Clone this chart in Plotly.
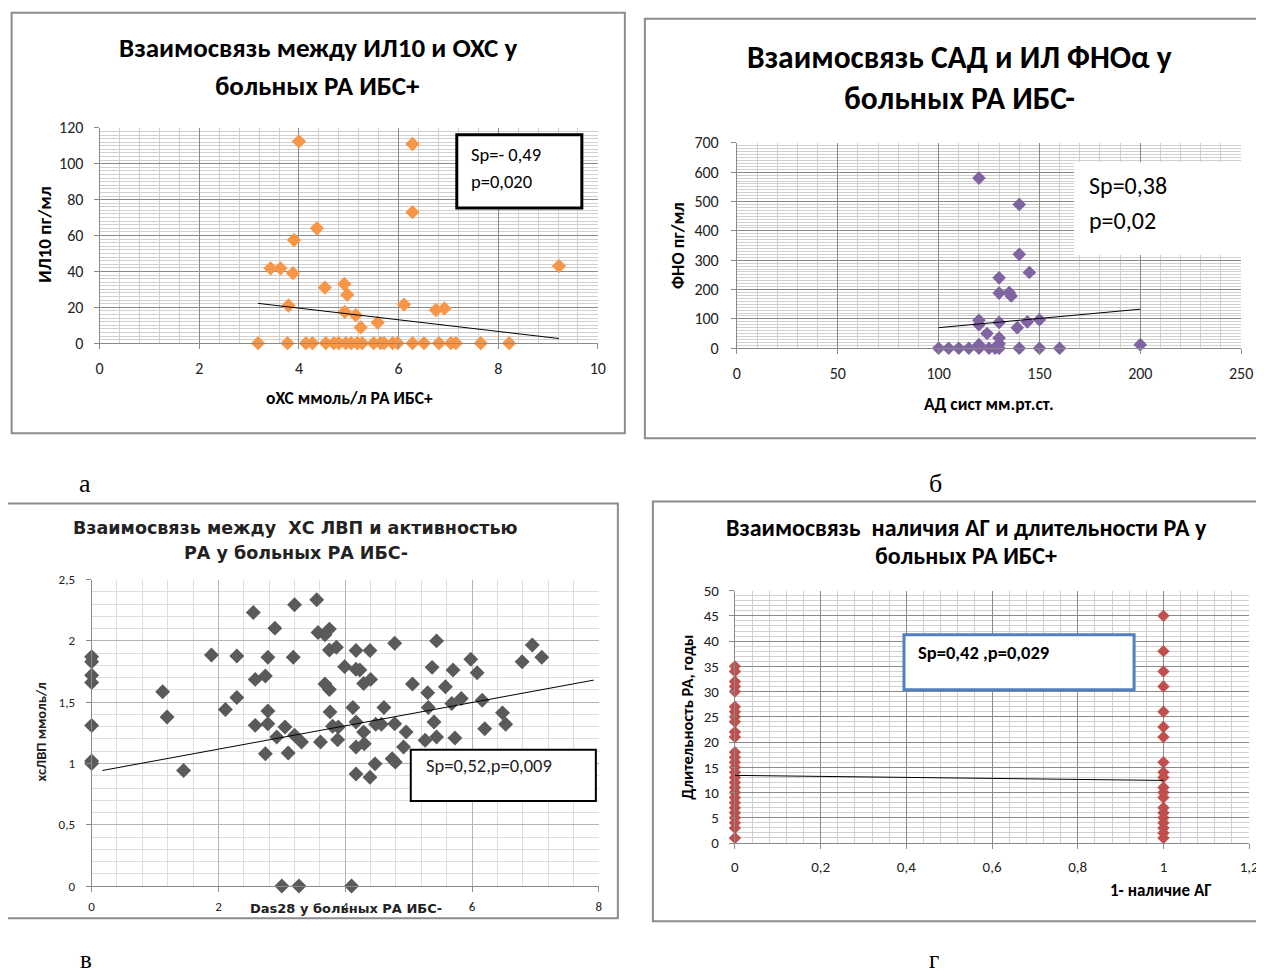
import plotly.graph_objects as go

# Figure size (page shows it inside the default 8px body margin)
W, H = 1272, 980
BODY = 8
# measured page -> picture mapping of the viewer (scale, offset)
SX, OXP = 0.987, 3.5
SY, OYP = 0.979, 9.5

# ---------------- DATA ----------------
# Panel а: ИЛ10 vs оХС (РА ИБС+)
a_x = [4.0, 6.28, 6.28, 4.36, 3.90, 3.43, 3.63, 3.88, 9.22, 4.52, 4.91, 4.97, 3.79, 6.11,
       6.75, 6.92, 4.92, 5.14, 5.24, 5.58,
       3.18, 3.77, 4.14, 4.27, 4.54, 4.70, 4.80, 4.94, 5.05, 5.17, 5.27, 5.50, 5.64, 5.71,
       5.88, 5.98, 6.28, 6.51, 6.81, 7.05, 7.15, 7.65, 8.22]
a_y = [112.5, 111, 73, 64, 57.5, 41.7, 41.7, 39, 43, 31, 33, 27, 21, 21.5,
       18.5, 19.4, 17.5, 15.6, 8.8, 11.5,
       0, 0, 0, 0, 0, 0, 0, 0, 0, 0, 0, 0, 0, 0,
       0, 0, 0, 0, 0, 0, 0, 0, 0]
a_trend_x = [3.18, 9.22]
a_trend_y = [22.2, 2.6]

# Panel б: ФНО vs САД (РА ИБС-)
b_x = [120, 140, 140, 145, 130, 130, 135, 136, 120, 120, 124, 130, 130, 139, 144, 150,
       100, 105, 110, 115, 120, 125, 128, 130, 140, 150, 160, 200, 130, 120]
b_y = [580, 490, 320, 258, 240, 188, 190, 178, 95, 80, 50, 88, 35, 70, 90, 97,
       0, 0, 0, 0, 0, 0, 0, 0, 0, 0, 0, 12, 15, 12]
b_trend_x = [100, 200]
b_trend_y = [70, 133]

# Panel в: ХС ЛВП vs Das28 (РА ИБС-)
c_x = [0, 0, 0, 0, 0, 0, 0, 1.12, 1.19, 1.45, 1.89, 2.11, 2.29, 2.29, 2.55, 2.58, 2.58,
       2.74, 2.78, 2.78, 2.78, 2.74, 2.89, 2.92, 3.05, 3.10, 3.00, 3.18, 3.20, 3.20, 3.27,
       3.31, 3.55, 3.57, 3.61, 3.68, 3.75, 3.75, 3.86, 3.68, 3.75, 3.76, 3.80, 3.89, 3.88,
       3.99, 4.10, 4.12, 4.17, 4.17, 4.17, 4.23, 4.29, 4.40, 4.39, 4.29, 4.17, 4.30, 4.17,
       4.39, 4.47, 4.48, 4.57, 4.61, 4.78, 4.78, 4.74, 4.79, 4.92, 4.96, 5.06, 5.26, 5.30,
       5.31, 5.40, 5.37, 5.44, 5.44, 5.58, 5.68, 5.70, 5.73, 5.83, 5.98, 6.08, 6.16, 6.20,
       6.48, 6.53, 6.79, 6.95, 7.10]
c_y = [1.87, 1.83, 1.72, 1.66, 1.31, 1.02, 1.00, 1.585, 1.38, 0.943, 1.885, 1.44, 1.877,
       1.538, 2.232, 1.686, 1.311, 1.713, 1.866, 1.429, 1.325, 1.079, 2.104, 1.216, 1.298,
       1.085, 0.0, 1.866, 2.295, 1.23, 0.0, 1.175, 2.336, 2.068, 1.175, 2.05, 2.096, 1.926,
       1.948, 1.648, 1.604, 1.421, 1.303, 1.298, 1.194, 1.79, 0.0, 1.456, 1.339, 1.921,
       1.768, 1.762, 1.653, 1.686, 1.921, 1.257, 1.134, 1.161, 0.915, 0.888, 0.997, 1.32,
       1.32, 1.456, 1.981, 1.325, 1.038, 1.011, 1.134, 1.257, 1.648, 1.189, 1.577, 1.456,
       1.339, 1.784, 2.0, 1.216, 1.626, 1.489, 1.762, 1.208, 1.53, 1.85, 1.74, 1.516,
       1.284, 1.413, 1.32, 1.83, 1.967, 1.866]
c_trend_x = [0.17, 7.92]
c_trend_y = [0.943, 1.68]

# Panel г: длительность РА vs наличие АГ (РА ИБС+)
d_x = [0, 0, 0, 0, 0, 0, 0, 0, 0, 0, 0, 0, 0, 0, 0, 0, 0, 0, 0, 0, 0, 0, 0, 0, 0, 0, 0, 0,
       1, 1, 1, 1, 1, 1, 1, 1, 1, 1, 1, 1, 1, 1, 1, 1, 1, 1, 1, 1]
d_y = [35, 34, 32, 31, 30, 27, 26, 25, 24, 22, 21, 18, 17, 16, 15, 14, 13, 12, 11, 10,
       9, 8, 7, 6, 5, 4, 3, 1,
       45, 38, 34, 31, 26, 23, 21, 16, 14, 13, 11, 10, 9, 7, 6, 5, 4, 3, 2, 1]
d_trend_x = [0, 1]
d_trend_y = [13.4, 12.4]

# ---------------- helpers ----------------
def px(x):
    f = (x - OXP) / SX - BODY
    return f / W

def py(y):
    f = (y - OYP) / SY - BODY
    return 1 - f / H

NARROW = "Liberation Sans Narrow, Carlito, Arial Narrow, sans-serif"
WIDE = "DejaVu Sans, Verdana, sans-serif"
SERIF = "Liberation Serif, Times New Roman, serif"

MAJ = "#8a8a8a"
MIN = "#d0d0d0"
AX = "#8a8a8a"

fig = go.Figure()

def add_scatter(xs, ys, color, size, n):
    fig.add_trace(go.Scatter(x=xs, y=ys, mode="markers", xaxis="x" + n, yaxis="y" + n,
                             marker=dict(symbol="diamond", color=color, size=size, line=dict(width=0)),
                             cliponaxis=False, showlegend=False, hoverinfo="x+y"))

def add_trend(xs, ys, n):
    fig.add_trace(go.Scatter(x=xs, y=ys, mode="lines", xaxis="x" + n, yaxis="y" + n,
                             line=dict(color="black", width=1), showlegend=False, hoverinfo="skip"))

add_scatter(a_x, a_y, "#F79646", 11, "")
add_trend(a_trend_x, a_trend_y, "")
add_scatter(b_x, b_y, "#8064A2", 10.5, "2")
add_trend(b_trend_x, b_trend_y, "2")
add_scatter(c_x, c_y, "#5a5a5a", 11.5, "3")
add_trend(c_trend_x, c_trend_y, "3")
add_scatter(d_x, d_y, "#C0504D", 9.5, "4")
add_trend(d_trend_x, d_trend_y, "4")

def axis(domain, rng, dtick, mdtick, anchor, fsize, family, standoff, majc=MAJ, minc=MIN):
    return dict(domain=domain, range=rng, dtick=dtick, tick0=0, anchor=anchor,
                showgrid=True, gridcolor=majc, gridwidth=1,
                minor=dict(dtick=mdtick, tick0=0, showgrid=True, gridcolor=minc, gridwidth=1, ticks=""),
                showline=True, linecolor=AX, linewidth=1, mirror=False,
                ticks="outside", ticklen=5, tickcolor=AX,
                tickfont=dict(family=family, size=fsize, color="#222"),
                ticklabelstandoff=standoff, zeroline=False, fixedrange=True)

lay = dict(
    width=W, height=H, autosize=False,
    margin=dict(l=0, r=0, t=0, b=0),
    paper_bgcolor="white", plot_bgcolor="white",
    separators=", ",
    showlegend=False,
)

# Panel а
lay["xaxis"] = axis([px(99), px(597)], [0, 10], 2, 0.4, "y", 16, NARROW, 6)
lay["yaxis"] = axis([py(343), py(128)], [0, 120], 20, 2, "x", 16, NARROW, 7)
# Panel б
lay["xaxis2"] = axis([px(736), px(1240)], [0, 250], 50, 10, "y2", 16, NARROW, 6)
lay["yaxis2"] = axis([py(348), py(143)], [0, 700], 100, 10, "x2", 16, NARROW, 9)
# Panel в
lay["xaxis3"] = axis([px(91), px(598)], [0, 8], 2, 0.4, "y3", 13, NARROW, 3, "#b5b5b5", "#dedede")
lay["yaxis3"] = axis([py(885), py(579)], [0, 2.5], 0.5, 0.1, "x3", 13, NARROW, 8, "#b5b5b5", "#dedede")
# Panel г
lay["xaxis4"] = axis([px(734), px(1248)], [0, 1.2], 0.2, 0.04, "y4", 15, NARROW, 5)
lay["yaxis4"] = axis([py(842), py(590)], [0, 50], 5, 1, "x4", 15, NARROW, 7)

shapes = []
def frame(x0, y0, x1, y1):
    shapes.append(dict(type="rect", xref="paper", yref="paper", x0=px(x0), x1=px(x1),
                       y0=py(y1), y1=py(y0), line=dict(color="#8c8c8c", width=2),
                       fillcolor="rgba(0,0,0,0)", layer="below"))

frame(11, 13, 624, 433)
frame(644, 19, 1270, 438)
frame(4, 503, 617, 917)
frame(652, 501, 1270, 920)

def box(x0, y0, x1, y1, color, width):
    shapes.append(dict(type="rect", xref="paper", yref="paper", x0=px(x0), x1=px(x1),
                       y0=py(y1), y1=py(y0), line=dict(color=color, width=width),
                       fillcolor="white", layer="above"))

box(456, 135, 581, 208, "black", 3)
shapes.append(dict(type="rect", xref="paper", yref="paper", x0=px(1073), x1=px(1240),
                   y0=py(255), y1=py(162), line=dict(width=0), fillcolor="white", layer="above"))
box(410, 749, 595, 800, "black", 2)
box(903, 634, 1133, 689, "#4F81BD", 3)
lay["shapes"] = shapes

anns = []
def text(x, y, s, size, family=NARROW, bold=False, xanchor="center", angle=0, color="black"):
    if bold:
        s = "<b>" + s + "</b>"
    anns.append(dict(x=px(x), y=py(y), xref="paper", yref="paper", text=s, showarrow=False,
                     xanchor=xanchor, yanchor="middle", textangle=angle,
                     font=dict(family=family, size=size, color=color)))

# titles
text(317, 48, "Взаимосвязь между ИЛ10 и ОХС у", 27, bold=True)
text(317, 86, "больных РА ИБС+", 27, bold=True)
text(958, 57, "Взаимосвязь САД и ИЛ ФНОα у", 31.5, bold=True)
text(958, 98, "больных РА ИБС-", 31.5, bold=True)
text(295, 527, "Взаимосвязь между  ХС ЛВП и активностью", 17.5, family=WIDE, bold=True, color="#222")
text(295, 552, "РА у больных РА ИБС-", 17.5, family=WIDE, bold=True, color="#222")
text(965, 527, "Взаимосвязь  наличия АГ и длительности РА у", 24, bold=True)
text(965, 555, "больных РА ИБС+", 24, bold=True)

# axis titles
text(43, 235, "ИЛ10 пг/мл", 19, bold=True, angle=-90)
text(349, 398, "оХС ммоль/л РА ИБС+", 17.5, bold=True)
text(677, 245, "ФНО пг/мл", 18, bold=True, angle=-90)
text(988, 404, "АД сист мм.рт.ст.", 17.5, bold=True)
text(40, 731, "хсЛВП ммоль/л", 14.5, bold=True, angle=-90, color="#222")
text(345, 907, "Das28 у больных РА ИБС-", 13, family=WIDE, bold=True, color="#222")
text(686, 716, "Длительность РА, годы", 16.5, bold=True, angle=-90)
text(1160, 889, "1- наличие АГ", 17, bold=True)

# stat boxes
text(468, 155, "Sp=- 0,49", 18.5, xanchor="left")
text(468, 182, "p=0,020", 18.5, xanchor="left")
text(1086, 186, "Sp=0,38", 24, xanchor="left")
text(1086, 220, "p=0,02", 24, xanchor="left")
text(423, 765, "Sp=0,52,p=0,009", 18.5, xanchor="left", color="#222")
text(915, 652, "Sp=0,42 ,p=0,029", 18.5, bold=True, xanchor="left")

# panel letters
text(84, 483, "а", 26, family=SERIF)
text(935, 483, "б", 26, family=SERIF)
text(85, 958, "в", 25, family=SERIF)
text(933, 958, "г", 25, family=SERIF)

lay["annotations"] = anns
fig.update_layout(**lay)
fig.write_html("out.html")
